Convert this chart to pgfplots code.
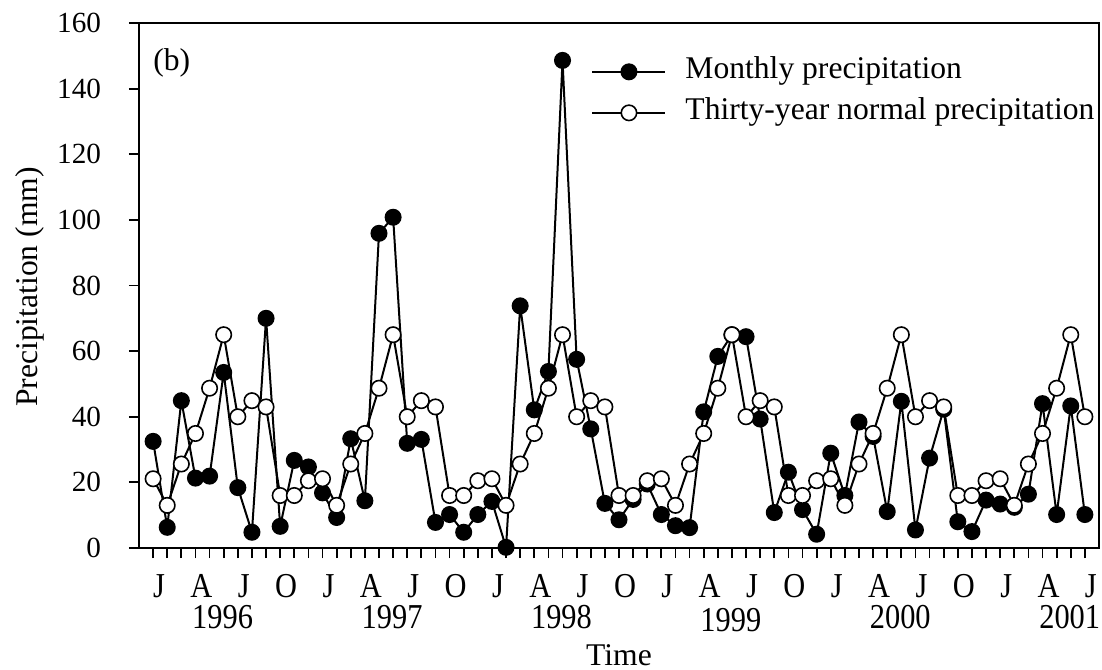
\documentclass[border=0pt]{standalone}
\usepackage{fontspec}
\setmainfont{Liberation Serif}
\usepackage{pgfplots}
\usepackage{pgfplotstable}
\pgfplotsset{compat=1.18}

\newcommand{\ytickfont}{\fontsize{14.6pt}{17pt}\selectfont}
\newcommand{\xtickfont}{\fontsize{15.2pt}{18pt}\selectfont}
\newcommand{\labfont}{\fontsize{15.8pt}{19pt}\selectfont}

% month index (0 = Jan 1996), monthly precipitation, thirty-year normal
\pgfplotstableread{
m  precip normal
0  32.5 21.1
1  6.3  13.0
2  44.9 25.6
3  21.3 34.9
4  21.9 48.7
5  53.5 65.0
6  18.4 40.0
7  4.8  44.9
8  70.0 43.0
9  6.6  16.0
10 26.7 16.0
11 24.7 20.5
12 16.8 21.1
13 9.3  13.0
14 33.3 25.6
15 14.4 34.9
16 95.9 48.7
17 100.8 65.0
18 31.9 40.0
19 33.1 44.9
20 7.8  43.0
21 10.2 16.0
22 4.8  16.0
23 10.2 20.5
24 14.2 21.1
25 0.2  13.0
26 73.8 25.6
27 42.1 34.9
28 53.8 48.7
29 148.6 65.0
30 57.5 40.0
31 36.3 44.9
32 13.6 43.0
33 8.6  16.0
34 14.8 16.0
35 19.5 20.5
36 10.2 21.1
37 6.8  13.0
38 6.2  25.6
39 41.5 34.9
40 58.4 48.7
41 65.0 65.0
42 64.4 40.0
43 39.3 44.9
44 10.8 43.0
45 23.1 16.0
46 11.7 16.0
47 4.2  20.5
48 28.9 21.1
49 16.0 13.0
50 38.4 25.6
51 34.0 34.9
52 11.1 48.7
53 44.7 65.0
54 5.5  40.0
55 27.4 44.9
56 42.3 43.0
57 8.0  16.0
58 5.0  16.0
59 14.6 20.5
60 13.4 21.1
61 12.4 13.0
62 16.4 25.6
63 44.0 34.9
64 10.2 48.7
65 43.3 65.0
66 10.2 40.0
}\datatable

\begin{document}
\begin{tikzpicture}
\begin{axis}[
  name=ax, at={(0,0)}, anchor=south west,
  scale only axis, width=480pt, height=262.5pt,
  xmin=-1, xmax=67, ymin=0, ymax=160,
  clip=false,
  axis line style={line width=0.9pt},
  tick style={line width=0.9pt, black},
  tick align=outside, xtick pos=lower, ytick pos=left,
  major tick length=5pt, minor tick length=5pt,
  xtick={0,3,...,66},
  xticklabels={J,A,J,O,J,A,J,O,J,A,J,O,J,A,J,O,J,A,J,O,J,A,J},
  minor xtick={0,...,66},
  ytick={0,20,...,160},
  /pgf/number format/assume math mode=true,
  xticklabel style={font=\xtickfont, anchor=base, inner sep=0pt, xshift=3pt, yshift=-19.5pt, yscale=1.15},
  yticklabel style={font=\ytickfont, anchor=east, inner sep=0pt, xshift=-13.8pt},
  every axis label/.append style={font=\labfont},
  xlabel={Time},
  xlabel style={at={(axis description cs:0.5,0)}, anchor=base, inner sep=0pt, yshift=-58.5pt},
  ylabel={Precipitation (mm)},
  ylabel style={at={(axis description cs:-0.10625,0.497)}, anchor=base, inner sep=0pt},
  legend style={at={(axis description cs:0.4709,0.9468)}, anchor=north west,
    draw=none, fill=none, inner sep=0pt, row sep=0pt,
    font=\labfont,
    nodes={inner xsep=4pt, inner ysep=2.75pt, text height=11pt, text depth=4pt}},
  legend cell align=left,
  legend image code/.code={
    \draw[#1, mark repeat=2, mark phase=2] plot coordinates {(0pt,0pt) (18.25pt,0pt) (36.5pt,0pt)};
    \path (42pt,0pt);
  },
]
\addplot[black, line width=1pt, mark=*, mark size=3.85pt,
  mark options={solid, fill=black, draw=black, line width=0.8pt}]
  table[x=m, y=precip] {\datatable};
\addlegendentry{Monthly precipitation}
\addplot[black, line width=1pt, mark=*, mark size=3.85pt,
  mark options={solid, fill=white, draw=black, line width=0.8pt}]
  table[x=m, y=normal] {\datatable};
\addlegendentry{Thirty-year normal precipitation}

% panel tag
\node[anchor=west, inner sep=0pt, font=\labfont]
  at (axis description cs:0.0146,0.924) {(b)};

% year labels under each Jan--Dec block
\node[anchor=base, inner sep=0pt, font=\xtickfont, xshift=3pt, yshift=-40pt, yscale=1.15] at (axis cs:4.5,0) {1996};
\node[anchor=base, inner sep=0pt, font=\xtickfont, xshift=3pt, yshift=-40pt, yscale=1.15] at (axis cs:16.5,0) {1997};
\node[anchor=base, inner sep=0pt, font=\xtickfont, xshift=3pt, yshift=-40pt, yscale=1.15] at (axis cs:28.5,0) {1998};
\node[anchor=base, inner sep=0pt, font=\xtickfont, xshift=3pt, yshift=-41.75pt, yscale=1.15] at (axis cs:40.5,0) {1999};
\node[anchor=base, inner sep=0pt, font=\xtickfont, xshift=3pt, yshift=-40pt, yscale=1.15] at (axis cs:52.5,0) {2000};
\node[anchor=base, inner sep=0pt, font=\xtickfont, xshift=3pt, yshift=-40pt, yscale=1.15] at (axis cs:64.5,0) {2001};
\end{axis}
\pgfresetboundingbox
\path[use as bounding box] (ax.south west) ++(-69.5pt,-60.5pt) rectangle ++(551pt,334.5pt);
\end{tikzpicture}
\end{document}
